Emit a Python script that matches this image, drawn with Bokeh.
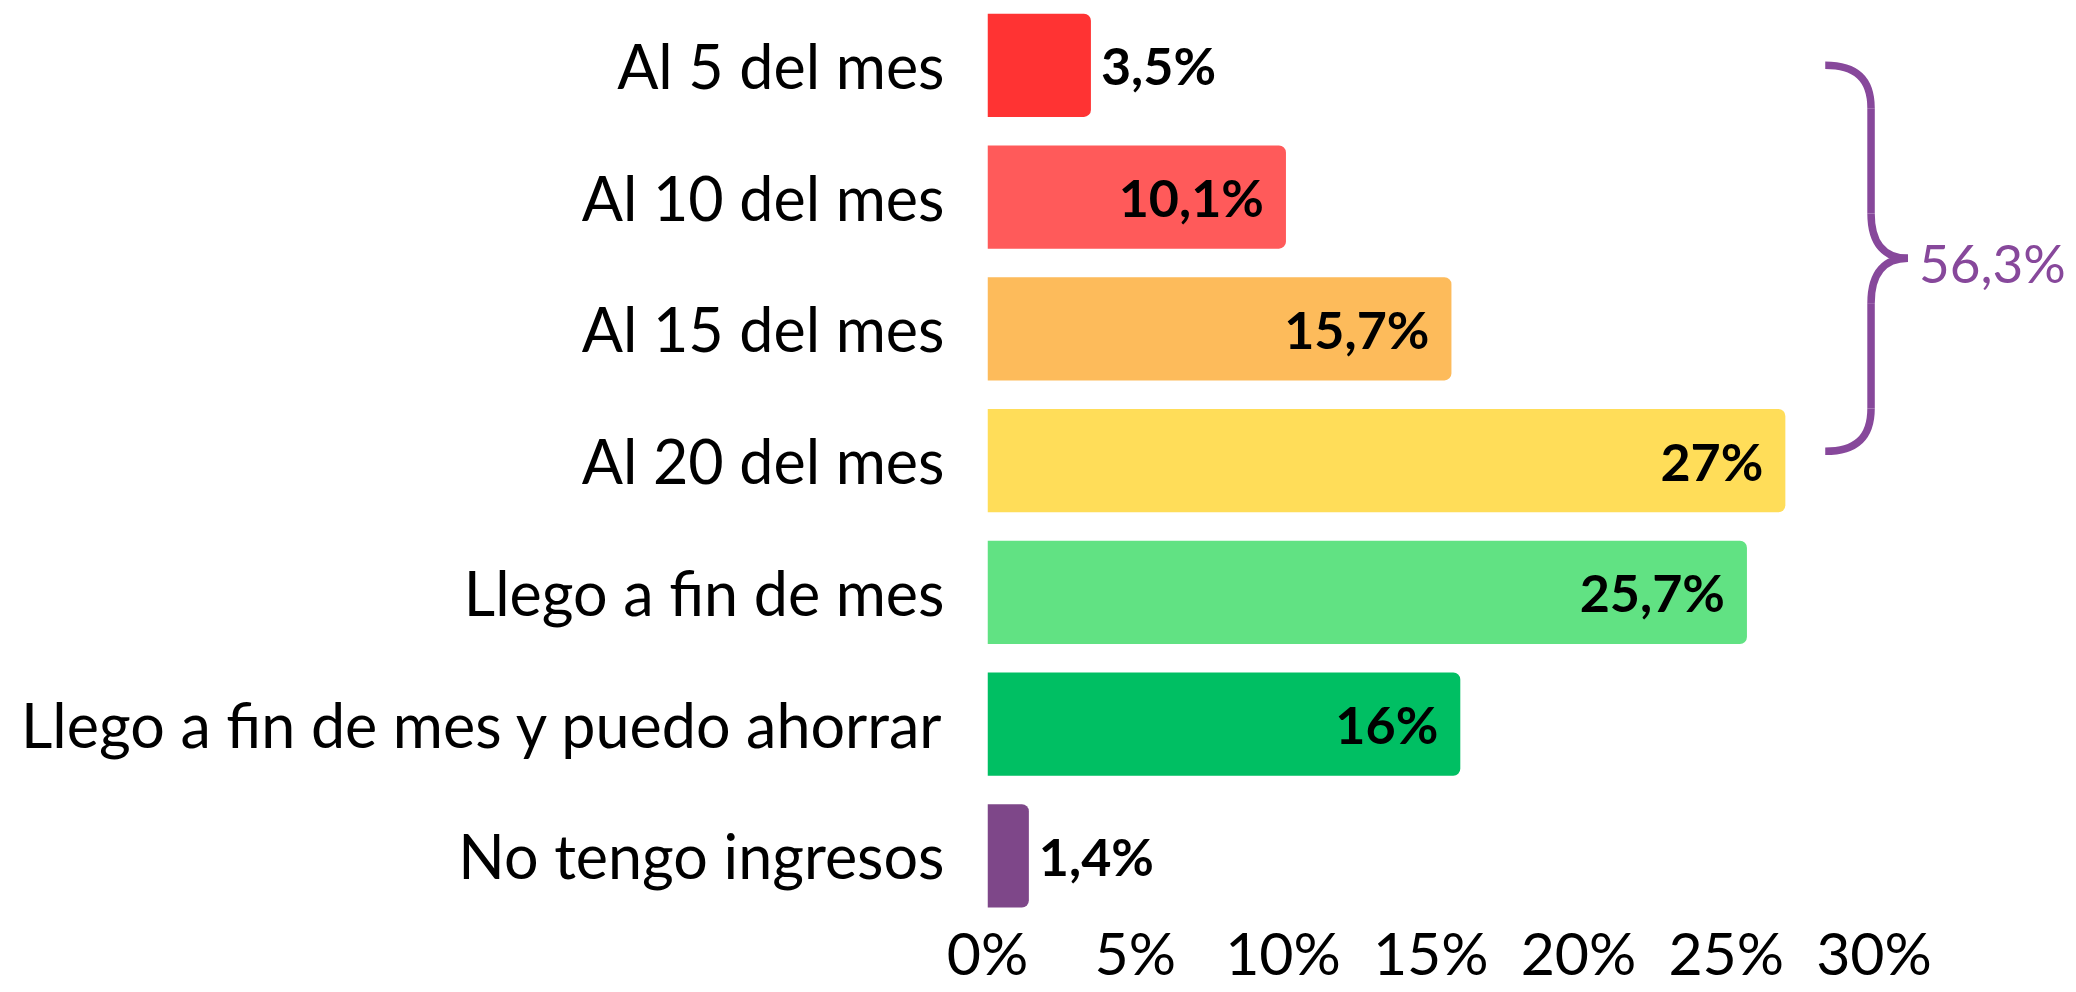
from bokeh.plotting import figure
from bokeh.models import Range1d, FixedTicker, PrintfTickFormatter, ColumnDataSource, Label
from bokeh.core.properties import value
from bokeh.embed import file_html
from bokeh.resources import INLINE

categories = ["Al 5 del mes", "Al 10 del mes", "Al 15 del mes", "Al 20 del mes",
              "Llego a fin de mes", "Llego a fin de mes y puedo ahorrar", "No tengo ingresos"]
values = [3.5, 10.1, 15.7, 27, 25.7, 16, 1.4]
colors = ["#FF3333", "#FF5A5A", "#FDBB5B", "#FFDD59", "#61E283", "#00BF63", "#7E4789"]
x_ticks = [0, 5, 10, 15, 20, 25, 30]
brace_group = [0, 1, 2, 3]
brace_color = "#87489B"

FONT = "Lato"
W, H = 2068, 990
PX_PER_UNIT = 29.55
ROW_PX = 132.2
FIRST_ROW_PX = 65
FRAME_BOTTOM = 919
LEFT = 987

p = figure(width=W, height=H, output_backend="svg", toolbar_location=None,
           x_range=Range1d(0, (W - LEFT) / PX_PER_UNIT),
           y_range=Range1d((FRAME_BOTTOM - FIRST_ROW_PX) / ROW_PX, -FIRST_ROW_PX / ROW_PX),
           min_border_left=LEFT, min_border_right=0, min_border_top=0, min_border_bottom=0)
p.outline_line_color = None
p.grid.visible = False
p.background_fill_color = "white"
p.border_fill_color = "white"

ys = list(range(len(categories)))
src = ColumnDataSource(dict(y=ys, right=values, color=colors))
p.hbar(y="y", left=0, right="right", height=0.783, fill_color="color", line_color=None,
       source=src, border_radius=(0, 7, 7, 0))

def fmt(v):
    return f"{v:g}".replace(".", ",") + "%"

inside = [(i, v) for i, v in enumerate(values) if v >= 5]
outside = [(i, v) for i, v in enumerate(values) if v < 5]
p.text(x=[v for _, v in inside], y=[i for i, _ in inside], text=[fmt(v) for _, v in inside],
       text_align="right", text_baseline="middle", x_offset=-22,
       text_font=value(FONT), text_font_style="bold", text_font_size="52px", text_color="black")
p.text(x=[v for _, v in outside], y=[i for i, _ in outside], text=[fmt(v) for _, v in outside],
       text_align="left", text_baseline="middle", x_offset=10,
       text_font=value(FONT), text_font_style="bold", text_font_size="52px", text_color="black")

# brace around the first group
y_top = brace_group[0]
y_bot = brace_group[-1] - 0.07
y_mid = (y_top + y_bot) / 2
xe, xs, xt = 28.35, 29.9, 31.15
cy1 = 43 / ROW_PX
cy2 = 45 / ROW_PX
dxe = 30 / PX_PER_UNIT
dxt = 22 / PX_PER_UNIT
dy1 = 13 / ROW_PX
p.bezier(x0=[xe, xs, xt, xs], y0=[y_top, y_mid - cy2, y_mid, y_bot - cy1],
         x1=[xs, xt, xs, xe], y1=[y_top + cy1, y_mid, y_mid + cy2, y_bot],
         cx0=[xe + dxe, xs, xt - dxt, xs], cy0=[y_top, y_mid - cy2 + 32 / ROW_PX, y_mid, y_bot - cy1 + 30 / ROW_PX],
         cx1=[xs, xt - dxt, xs, xe + dxe], cy1=[y_top + dy1, y_mid, y_mid + cy2 - 32 / ROW_PX, y_bot],
         line_color=brace_color, line_width=7.5)
p.segment(x0=[xs, xs], y0=[y_top + cy1, y_mid + cy2], x1=[xs, xs], y1=[y_mid - cy2, y_bot - cy1],
          line_color=brace_color, line_width=7.5)
group_total = sum(values[i] for i in brace_group)
p.add_layout(Label(x=xt, y=y_mid, text=fmt(round(group_total, 1)), x_offset=11, y_offset=-4,
                   text_align="left", text_baseline="middle", text_font=FONT,
                   text_font_size="53px", text_color=brace_color))

xa = p.xaxis[0]
xa.ticker = FixedTicker(ticks=x_ticks)
xa.formatter = PrintfTickFormatter(format="%d%%")
xa.axis_line_color = None
xa.major_tick_line_color = None
xa.minor_tick_line_color = None
xa.major_tick_out = 0
xa.major_tick_in = 0
xa.major_label_standoff = 0
xa.major_label_text_font = FONT
xa.major_label_text_font_size = "59px"
xa.major_label_text_color = "black"

ya = p.yaxis[0]
ya.ticker = FixedTicker(ticks=ys)
ya.major_label_overrides = {i: c for i, c in enumerate(categories)}
ya.axis_line_color = None
ya.major_tick_line_color = None
ya.minor_tick_line_color = None
ya.major_tick_out = 0
ya.major_tick_in = 0
ya.major_label_standoff = 43
ya.major_label_text_font = FONT
ya.major_label_text_font_size = "61px"
ya.major_label_text_color = "black"

open("out.html", "w").write(file_html(p, INLINE))
